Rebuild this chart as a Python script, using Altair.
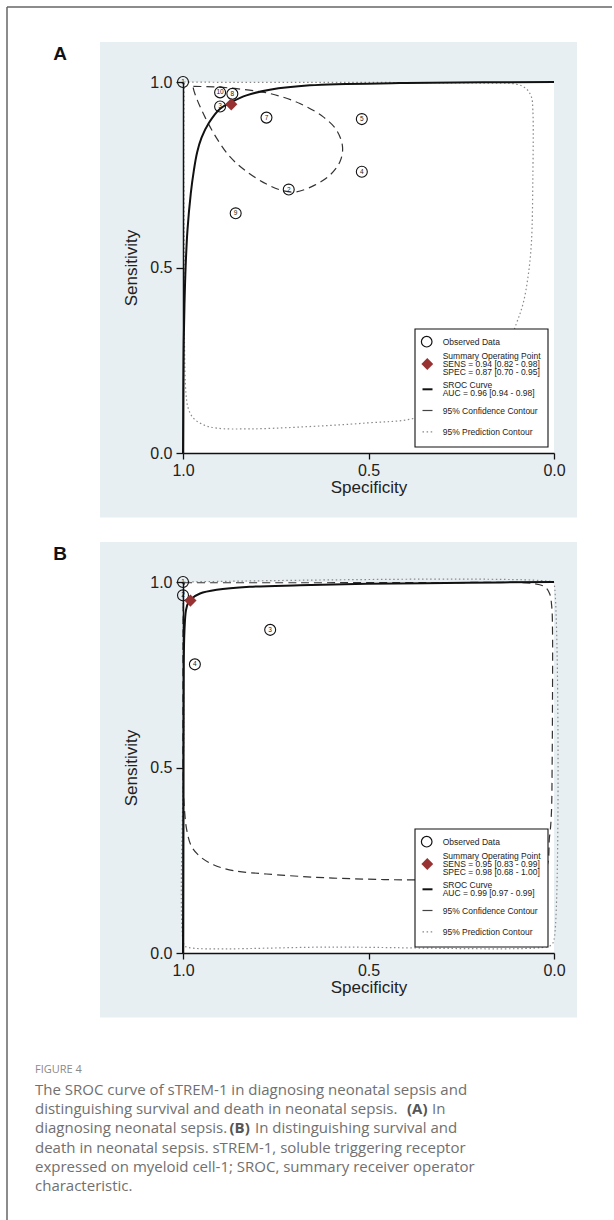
import altair as alt
import pandas as pd

# ---------------- Panel A data ----------------
a_study = ["1", "10", "8", "3", "7", "5", "4", "2", "9"]
a_spec = [1.000, 0.900, 0.867, 0.900, 0.775, 0.518, 0.518, 0.715, 0.858]
a_sens = [1.000, 0.972, 0.968, 0.934, 0.904, 0.900, 0.758, 0.710, 0.646]
a_sum_spec = [0.87]
a_sum_sens = [0.94]
a_sroc_spec = [1.000, 0.9995, 0.999, 0.998, 0.996, 0.993, 0.988, 0.979, 0.971, 0.962,
               0.950, 0.930, 0.900, 0.869, 0.829, 0.766, 0.658, 0.416, 0.191, 0.000]
a_sroc_sens = [0.000, 0.100, 0.200, 0.300, 0.400, 0.500, 0.600, 0.700, 0.760, 0.810,
               0.850, 0.890, 0.928, 0.946, 0.964, 0.979, 0.991, 0.997, 0.999, 1.000]
a_conf_spec = [0.972, 0.918, 0.855, 0.766, 0.685, 0.622, 0.586, 0.570, 0.577, 0.604,
               0.645, 0.694, 0.730, 0.775, 0.828, 0.873, 0.909, 0.941, 0.963, 0.972, 0.972]
a_conf_sens = [0.988, 0.987, 0.982, 0.969, 0.942, 0.906, 0.870, 0.825, 0.785, 0.749,
               0.722, 0.704, 0.707, 0.725, 0.758, 0.798, 0.848, 0.906, 0.955, 0.982, 0.988]
a_pred_spec = [0.997, 0.864, 0.685, 0.505, 0.326, 0.191, 0.101, 0.075, 0.061, 0.057,
               0.057, 0.061, 0.070, 0.083, 0.101, 0.146, 0.236, 0.375, 0.505, 0.685,
               0.820, 0.909, 0.945, 0.972, 0.986, 0.992, 0.996, 0.997, 0.998, 0.997]
a_pred_sens = [1.000, 0.999, 0.999, 0.999, 0.998, 0.997, 0.994, 0.982, 0.960, 0.924,
               0.744, 0.565, 0.475, 0.404, 0.350, 0.242, 0.152, 0.094, 0.081, 0.070,
               0.065, 0.067, 0.076, 0.094, 0.121, 0.161, 0.296, 0.565, 0.834, 1.000]
a_legend_sum = ["Summary Operating Point", "SENS = 0.94 [0.82 - 0.98]", "SPEC = 0.87 [0.70 - 0.95]"]
a_legend_sroc = ["SROC Curve", "AUC = 0.96 [0.94 - 0.98]"]

# ---------------- Panel B data ----------------
b_study = ["1", "2", "3", "4"]
b_spec = [1.000, 1.000, 0.765, 0.968]
b_sens = [1.000, 0.964, 0.871, 0.778]
b_sum_spec = [0.98]
b_sum_sens = [0.95]
b_sroc_spec = [1.000, 0.999, 0.998, 0.996, 0.992, 0.986, 0.977, 0.954, 0.909, 0.820,
               0.685, 0.505, 0.236, 0.000]
b_sroc_sens = [0.000, 0.420, 0.780, 0.870, 0.924, 0.944, 0.955, 0.969, 0.979, 0.987,
               0.991, 0.995, 0.998, 1.000]
b_conf_spec = [0.997, 0.685, 0.326, 0.057, 0.025, 0.012, 0.006, 0.004, 0.004, 0.005,
               0.007, 0.012, 0.030, 0.191, 0.375, 0.505, 0.640, 0.775, 0.864, 0.918,
               0.954, 0.977, 0.990, 0.996, 0.999, 1.000, 0.999, 0.997]
b_conf_sens = [0.998, 0.998, 0.998, 0.996, 0.987, 0.969, 0.933, 0.870, 0.691, 0.511,
               0.377, 0.314, 0.215, 0.199, 0.197, 0.199, 0.204, 0.213, 0.222, 0.238,
               0.260, 0.287, 0.332, 0.386, 0.439, 0.691, 0.960, 0.998]
b_pred_spec = [0.997, 0.003, 0.000, 0.000, 0.007, 0.021, 0.595, 0.990, 0.997, 0.998, 0.998, 0.997]
b_pred_sens = [1.000, 1.000, 0.996, 0.036, 0.022, 0.016, 0.016, 0.016, 0.022, 0.601, 0.996, 1.000]
b_legend_sum = ["Summary Operating Point", "SENS = 0.95 [0.83 - 0.99]", "SPEC = 0.98 [0.68 - 1.00]"]
b_legend_sroc = ["SROC Curve", "AUC = 0.99 [0.97 - 0.99]"]

tick_vals = [0.0, 0.5, 1.0]

caption_head = "FIGURE 4"
caption_lines = [
    [("The SROC curve of sTREM-1 in diagnosing neonatal sepsis and", "normal", 0)],
    [("distinguishing survival and death in neonatal sepsis.", "normal", 0),
     ("(A)", "bold", 372), (" In", "normal", 397)],
    [("diagnosing neonatal sepsis.", "normal", 0),
     ("(B)", "bold", 194.5), (" In distinguishing survival and", "normal", 220)],
    [("death in neonatal sepsis. sTREM-1, soluble triggering receptor", "normal", 0)],
    [("expressed on myeloid cell-1; SROC, summary receiver operator", "normal", 0)],
    [("characteristic.", "normal", 0)],
]

# ---------------- helpers ----------------
W = 371
H = 371
one = pd.DataFrame({"k": [0]})
AXFONT = "Liberation Sans"

X = alt.X("spec:Q", title="Specificity",
          scale=alt.Scale(domain=[0, 1], reverse=True, nice=False, zero=False),
          axis=alt.Axis(values=tick_vals, format=".1f", labelFlush=False, titlePadding=1,
                        tickSize=6, labelPadding=3, zindex=1))
Y = alt.Y("sens:Q", title="Sensitivity",
          scale=alt.Scale(domain=[0, 1], nice=False, zero=False),
          axis=alt.Axis(values=tick_vals, format=".1f", titlePadding=9,
                        tickSize=7, labelPadding=4, zindex=1))


def txt(x, y, s, size=8.5, color="#222", weight="normal", font=AXFONT,
        align="left", baseline="middle"):
    return alt.Chart(one).mark_text(
        text=s, fontSize=size, color=color, fontWeight=weight, font=font,
        align=align, baseline=baseline
    ).encode(x=alt.value(x), y=alt.value(y))


def rect(x0, x1, y0, y1, fill, stroke=None, sw=1):
    kw = dict(fill=fill)
    if stroke:
        kw.update(stroke=stroke, strokeWidth=sw)
    else:
        kw.update(strokeWidth=0)
    return alt.Chart(one).mark_rect(**kw).encode(
        x=alt.value(x0), x2=alt.value(x1), y=alt.value(y0), y2=alt.value(y1))


def seg(x0, x1, y0, y1, color, sw, dash=None):
    kw = dict(color=color, strokeWidth=sw)
    if dash:
        kw["strokeDash"] = dash
    return alt.Chart(one).mark_rule(**kw).encode(
        x=alt.value(x0), x2=alt.value(x1), y=alt.value(y0), y2=alt.value(y1))


def curve(spec, sens, color, sw, dash=None, interp="catmull-rom"):
    df = pd.DataFrame({"spec": spec, "sens": sens, "i": list(range(len(spec)))})
    kw = dict(color=color, strokeWidth=sw, interpolate=interp)
    if dash:
        kw["strokeDash"] = dash
    return alt.Chart(df).mark_line(**kw).encode(x=X, y=Y, order="i:Q")


RED = "#983232"
PRED_DASH = [1.5, 2.6]
CONF_DASH = [8, 5]


def legend(sum_lines, sroc_lines):
    lx = 259.7
    layers = [rect(232, 365, 247, 365, "white", "#111", 1.1)]
    layers.append(alt.Chart(one).mark_point(shape="circle", size=112, filled=False,
                                            color="#111", strokeWidth=1.2, opacity=1)
                  .encode(x=alt.value(243.7), y=alt.value(259.7)))
    layers.append(txt(lx, 259.7, "Observed Data"))
    layers.append(alt.Chart(one).mark_point(shape="diamond", size=140, filled=True,
                                            color=RED, opacity=1)
                  .encode(x=alt.value(244.3), y=alt.value(282)))
    for i, s in enumerate(sum_lines):
        layers.append(txt(lx, 273.6 + 8.2 * i, s))
    layers.append(seg(239.5, 249.5, 307.3, 307.3, "#111", 2))
    for i, s in enumerate(sroc_lines):
        layers.append(txt(lx, 302.9 + 8.4 * i, s))
    layers.append(seg(239.5, 249.5, 328.5, 328.5, "#444", 1.2))
    layers.append(txt(lx, 328.5, "95% Confidence Contour"))
    layers.append(seg(239.5, 249.5, 349.8, 349.8, "#888", 1.2, PRED_DASH))
    layers.append(txt(lx, 349.8, "95% Prediction Contour"))
    return layers


def panel(letter, study, spec, sens, sum_spec, sum_sens, sroc, conf, pred,
          sum_lines, sroc_lines, extra_back=None):
    pts = pd.DataFrame({"spec": spec, "sens": sens, "study": study})
    summ = pd.DataFrame({"spec": sum_spec, "sens": sum_sens})
    layers = []
    if extra_back:
        layers += extra_back
    layers += [
        rect(-83, 394, -40, 435.5, "#e8eff2"),
        rect(0, W, 0, H, "white"),
        txt(-123, -28, letter, size=19, color="#111", weight="bold", align="center"),
        curve(pred[0], pred[1], "#8a8a8a", 1.2, PRED_DASH),
        curve(conf[0], conf[1], "#333", 1.2, CONF_DASH),
        curve(sroc[0], sroc[1], "#111", 2),
        alt.Chart(pts).mark_point(shape="circle", size=120, filled=False, color="#111",
                                  strokeWidth=1.1, opacity=1).encode(x=X, y=Y),
        alt.Chart(pts).mark_text(fontSize=6.5, font=AXFONT, color="#222").encode(
            x=X, y=Y, text="study:N"),
        alt.Chart(summ).mark_point(shape="diamond", size=150, filled=True, color=RED,
                                   opacity=1).encode(x=X, y=Y),
    ]
    layers += legend(sum_lines, sroc_lines)
    return alt.layer(*layers).properties(width=W, height=H)


# background canvas, frame and caption (drawn in panel A's coordinates; origin = 183, 82)
OX, OY = 183, 82
back = [
    rect(-OX, 614 - OX, -OY, 1220 - OY, "white"),
    seg(7 - OX, 612 - OX, 7 - OY, 7 - OY, "#666", 1.5),
    seg(7 - OX, 7 - OX, 7 - OY, 1220 - OY, "#666", 1.5),
    txt(35 - OX, 1070 - OY, caption_head, size=11, color="#8a8a8a", font="Open Sans"),
]
for li, parts in enumerate(caption_lines):
    yy = 1090 + 19.2 * li - OY
    for s, wgt, dx in parts:
        back.append(txt(35 - OX + dx, yy, s, size=15, color="#707070" if wgt == "normal" else "#555",
                        weight=wgt, font="Open Sans"))

panelA = panel("A", a_study, a_spec, a_sens, a_sum_spec, a_sum_sens,
               (a_sroc_spec, a_sroc_sens), (a_conf_spec, a_conf_sens), (a_pred_spec, a_pred_sens),
               a_legend_sum, a_legend_sroc, extra_back=back)
panelB = panel("B", b_study, b_spec, b_sens, b_sum_spec, b_sum_sens,
               (b_sroc_spec, b_sroc_sens), (b_conf_spec, b_conf_sens), (b_pred_spec, b_pred_sens),
               b_legend_sum, b_legend_sroc)

chart = alt.vconcat(panelA, panelB, spacing=129, bounds="flush").properties(
    padding=0, background="white"
).configure_view(stroke=None).configure_axis(
    grid=False, domainColor="#111", domainWidth=1.5, tickColor="#111", tickWidth=1.3,
    labelFont=AXFONT, labelFontSize=16, labelColor="#222",
    titleFont=AXFONT, titleFontSize=17, titleFontWeight="normal", titleColor="#222",
)

chart.save("out.html", embed_options={"renderer": "svg", "actions": False})
